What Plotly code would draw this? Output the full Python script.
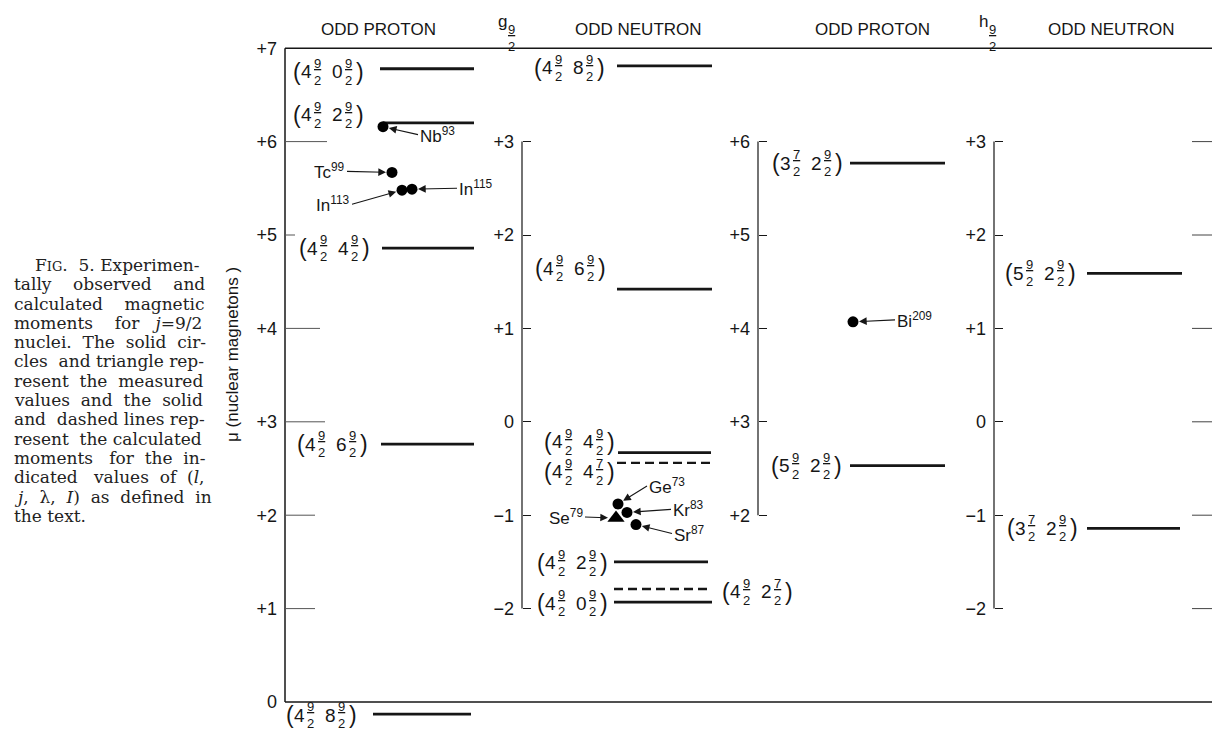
import plotly.graph_objects as go

# calculated moments (nuclear magnetons) with their states (l, j, lambda, I)
G_PROTON_MU = [6.78, 6.20, 4.86, 2.76, -0.13]
G_PROTON_STATE = [("4", "9/2", "0", "9/2"), ("4", "9/2", "2", "9/2"),
                  ("4", "9/2", "4", "9/2"), ("4", "9/2", "6", "9/2"),
                  ("4", "9/2", "8", "9/2")]
G_PROTON_DASHED = [False, False, False, False, False]

G_NEUTRON_MU = [3.81, 1.42, -0.33, -0.44, -1.50, -1.79, -1.93]
G_NEUTRON_STATE = [("4", "9/2", "8", "9/2"), ("4", "9/2", "6", "9/2"),
                   ("4", "9/2", "4", "9/2"), ("4", "9/2", "4", "7/2"),
                   ("4", "9/2", "2", "9/2"), ("4", "9/2", "2", "7/2"),
                   ("4", "9/2", "0", "9/2")]
G_NEUTRON_DASHED = [False, False, False, True, False, True, False]

H_PROTON_MU = [5.77, 2.53]
H_PROTON_STATE = [("3", "7/2", "2", "9/2"), ("5", "9/2", "2", "9/2")]
H_PROTON_DASHED = [False, False]

H_NEUTRON_MU = [1.59, -1.14]
H_NEUTRON_STATE = [("5", "9/2", "2", "9/2"), ("3", "7/2", "2", "9/2")]
H_NEUTRON_DASHED = [False, False]

# measured moments
G_PROTON_NUCLIDE = ["Nb", "Tc", "In", "In"]
G_PROTON_A = ["93", "99", "113", "115"]
G_PROTON_MEAS = [6.16, 5.67, 5.48, 5.49]

G_NEUTRON_NUCLIDE = ["Ge", "Kr", "Se", "Sr"]
G_NEUTRON_A = ["73", "83", "79", "87"]
G_NEUTRON_MEAS = [-0.88, -0.97, -1.03, -1.10]

H_PROTON_NUCLIDE = ["Bi"]
H_PROTON_A = ["209"]
H_PROTON_MEAS = [4.07]

# axis ticks
PROTON_TICKS = [0, 1, 2, 3, 4, 5, 6, 7]
H_PROTON_TICKS = [2, 3, 4, 5, 6]
NEUTRON_TICKS = [-2, -1, 0, 1, 2, 3]

HEADERS = ["ODD PROTON", "ODD NEUTRON", "ODD PROTON", "ODD NEUTRON"]
SHELLS = [("g", "9/2"), ("h", "9/2")]
Y_TITLE = "\u03bc (nuclear magnetons )"

CAPTION = [
    "F<span style='font-size:13px'>IG</span>. 5. Experimen-",
    "tally observed and",
    "calculated magnetic",
    "moments for <i>j</i>=9/2",
    "nuclei. The solid cir-",
    "cles and triangle rep-",
    "resent the measured",
    "values and the solid",
    "and dashed lines rep-",
    "resent the calculated",
    "moments for the in-",
    "dicated values of (<i>l</i>,",
    "<i>j</i>, \u03bb, <i>I</i>) as defined in",
    "the text.",
]

# ---------------- layout / style ----------------
W, H = 1220, 734          # page size
OFF = 8                   # body margin of the html page
FW, FH = W - OFF, H - OFF  # figure size
ZERO_PX, UNIT_PX = 702, 93.4
P_RANGE = [(ZERO_PX - H) / UNIT_PX, (ZERO_PX - OFF) / UNIT_PX]
N_SHIFT = 3
N_RANGE = [P_RANGE[0] - N_SHIFT, P_RANGE[1] - N_SHIFT]

INK = "#161616"
SANS = "Liberation Sans, Arial, sans-serif"
SERIF = "DejaVu Serif, serif"
CAP_SIZE = 17


def py(ypage):
    return 1 - (ypage - OFF) / FH


panels = [
    dict(yref="y", axis_x=285, ticks=PROTON_TICKS, rng=P_RANGE,
         mu=G_PROTON_MU, state=G_PROTON_STATE, dashed=G_PROTON_DASHED,
         label_x=[291, 291, 297, 295, 284], label_dy=[3, -8, 0, 0, 1],
         line_x=[(380, 474), (383, 474), (382, 474), (381, 474), (373, 471)]),
    dict(yref="y2", axis_x=522, ticks=NEUTRON_TICKS, rng=N_RANGE,
         mu=G_NEUTRON_MU, state=G_NEUTRON_STATE, dashed=G_NEUTRON_DASHED,
         label_x=[532, 533, 542, 542, 535, 720, 535],
         label_dy=[2, -21, -11, 9, 1, 3, 1],
         line_x=[(617, 712), (617, 712), (618, 711), (617, 711),
                 (614, 708), (614, 712), (614, 712)]),
    dict(yref="y3", axis_x=758, ticks=H_PROTON_TICKS, rng=P_RANGE,
         mu=H_PROTON_MU, state=H_PROTON_STATE, dashed=H_PROTON_DASHED,
         label_x=[770, 769], label_dy=[0, 0],
         line_x=[(850, 945), (850, 945)]),
    dict(yref="y4", axis_x=994, ticks=NEUTRON_TICKS, rng=N_RANGE,
         mu=H_NEUTRON_MU, state=H_NEUTRON_STATE, dashed=H_NEUTRON_DASHED,
         label_x=[1003, 1005], label_dy=[0, 0],
         line_x=[(1087, 1182), (1087, 1180)]),
]

measured = [
    dict(yref="y", nuc=G_PROTON_NUCLIDE, A=G_PROTON_A, mu=G_PROTON_MEAS,
         x=[383, 392, 402, 412], symbol=["circle"] * 4, size=[11] * 4,
         text=[(35, 8), (-45, -1), (-50, 14), (45, -1)]),
    dict(yref="y2", nuc=G_NEUTRON_NUCLIDE, A=G_NEUTRON_A, mu=G_NEUTRON_MEAS,
         x=[618, 627, 616, 636],
         symbol=["circle", "circle", "triangle-up", "circle"],
         size=[11, 11, 15, 11],
         text=[(29, -18), (44, -3), (-31, -1), (36, 9)]),
    dict(yref="y3", nuc=H_PROTON_NUCLIDE, A=H_PROTON_A, mu=H_PROTON_MEAS,
         x=[853], symbol=["circle"], size=[11], text=[(42, -2)]),
]

P1_TICK_LEN = [0, 30, 30, 40, 35, 10, 42, 0]

# rough advance widths (em) of DejaVu Serif, used to spread caption lines
CHAR_W = dict(zip("abcdefghijklmnopqrstuvwxyz",
                  [.596, .640, .560, .640, .592, .371, .640, .644, .320, .310,
                   .606, .320, .948, .644, .602, .640, .640, .478, .513, .402,
                   .644, .565, .855, .564, .565, .537]))
CHAR_W.update({" ": .318, ".": .318, ",": .318, "-": .338, "(": .390,
               ")": .390, "=": .838, "/": .337, "T": .672, "E": .684,
               "F": .652, "I": .347, "G": .56, "\u03bb": .600})


def tick_text(v):
    if v > 0:
        return f"+{v}"
    if v < 0:
        return f"\u2212{-v}"
    return "0"


def frac(s):
    num, den = s.split("/")
    return f"<u>{num}</u><br>{den}"


def plain(s):
    out, skip = "", False
    for ch in s:
        if ch == "<":
            skip = True
        elif ch == ">":
            skip = False
        elif not skip:
            out += ch
    return out


def justify(line, width):
    words = line.split(" ")
    gaps = len(words) - 1
    natural = sum(CHAR_W.get(c, .636) for c in plain(line)) * CAP_SIZE
    extra = int(round((width - natural) / (CHAR_W[" "] * CAP_SIZE)))
    if gaps == 0 or extra <= 0:
        return line
    out = words[0]
    for g, w in enumerate(words[1:]):
        n = extra // gaps + (1 if g < extra % gaps else 0)
        out += " " + "\u00a0" * n + w
    return out


fig = go.Figure()

# calculated levels
for p in panels:
    for mu, dashed, (x0, x1) in zip(p["mu"], p["dashed"], p["line_x"]):
        fig.add_trace(go.Scatter(
            x=[x0, x1], y=[mu, mu], yaxis=p["yref"], mode="lines",
            line=dict(color=INK, width=2.4 if dashed else 2.8,
                      dash="9px,5px" if dashed else "solid"),
            hoverinfo="skip", showlegend=False))

# measured points
for m in measured:
    fig.add_trace(go.Scatter(
        x=m["x"], y=m["mu"], yaxis=m["yref"], mode="markers",
        marker=dict(color="black", symbol=m["symbol"], size=m["size"],
                    opacity=1, line=dict(width=0)),
        hoverinfo="skip", showlegend=False))

annotations = []
shapes = []


def note(**kw):
    base = dict(showarrow=False, font=dict(family=SANS, size=16, color=INK))
    base.update(kw)
    annotations.append(base)


# state labels (l j lambda I)
PIECES = [(0, 23, "p"), (8, 19, "l"), (21, 13, "j"), (39, 19, "lam"),
          (52, 13, "I"), (63, 23, "q")]
for p in panels:
    for mu, st, lx, dy in zip(p["mu"], p["state"], p["label_x"], p["label_dy"]):
        l, j, lam, I = st
        texts = {"p": "(", "l": l, "j": frac(j), "lam": lam, "I": frac(I), "q": ")"}
        for dx, size, key in PIECES:
            note(x=lx + dx, y=mu, xref="x", yref=p["yref"], text=texts[key],
                 xanchor="left", yanchor="middle", yshift=-dy,
                 font=dict(family=SANS, size=size, color=INK))

# nuclide names with arrows pointing at the measured value
for m in measured:
    for i in range(len(m["mu"])):
        ax, ay = m["text"][i]
        annotations.append(dict(
            x=m["x"][i], y=m["mu"][i], xref="x", yref=m["yref"],
            text=f"{m['nuc'][i]}<sup>{m['A'][i]}</sup>",
            showarrow=True, ax=ax, ay=ay,
            xanchor="left" if ax > 0 else "right", yanchor="middle",
            arrowhead=2, arrowsize=1.4, arrowwidth=1.1, arrowcolor=INK,
            standoff=8 if m["symbol"][i] != "circle" else 6,
            font=dict(family=SANS, size=17, color=INK)))

# frame of the first panel
frame_x = panels[0]["axis_x"]
top, bottom = max(PROTON_TICKS), min(PROTON_TICKS)
line_style = dict(color=INK, width=1.5)
for yv in (top, bottom):
    shapes.append(dict(type="line", xref="x", yref="y", x0=frame_x, x1=W,
                       y0=yv, y1=yv, line=line_style))
shapes.append(dict(type="line", xref="x", yref="y", x0=frame_x, x1=frame_x,
                   y0=bottom, y1=top, line=line_style))
for t, ln in zip(PROTON_TICKS, P1_TICK_LEN):
    if ln:
        shapes.append(dict(type="line", xref="x", yref="y", x0=frame_x,
                           x1=frame_x + ln, y0=t, y1=t,
                           line=dict(color="#555", width=1)))

# brackets of the other panels
for p in panels[1:]:
    shapes.append(dict(type="line", xref="x", yref=p["yref"], x0=p["axis_x"],
                       x1=p["axis_x"], y0=min(p["ticks"]), y1=max(p["ticks"]),
                       line=dict(color=INK, width=1.2)))

# ticks at the right edge
for t in NEUTRON_TICKS:
    shapes.append(dict(type="line", xref="x", yref="y4", x0=1192, x1=W,
                       y0=t, y1=t, line=dict(color="#444", width=1)))

# headers
for text, xc in zip(HEADERS, [378, 638, 872, 1111]):
    note(x=xc, y=py(30), xref="x", yref="paper", text=text,
         xanchor="center", yanchor="middle",
         font=dict(family=SANS, size=17, color=INK))
for (letter, fr), xl in zip(SHELLS, [496, 977]):
    note(x=xl, y=py(22), xref="x", yref="paper", text=letter,
         xanchor="left", yanchor="middle",
         font=dict(family=SANS, size=17, color=INK))
    note(x=xl + 10, y=py(38), xref="x", yref="paper", text=frac(fr),
         xanchor="left", yanchor="middle",
         font=dict(family=SANS, size=13, color=INK))

# y-axis title
note(x=232, y=py(355), xref="x", yref="paper", text=Y_TITLE, textangle=-90,
     xanchor="center", yanchor="middle",
     font=dict(family=SANS, size=17, color=INK))

# caption, spread over the column like the printed text
for k, line in enumerate(CAPTION):
    x_left = 33 if k == 0 else 12
    text = line if k == len(CAPTION) - 1 else justify(line, 202 - x_left)
    note(x=x_left, y=py(265 + 19.3 * k), xref="x", yref="paper", text=text,
         xanchor="left", yanchor="middle",
         font=dict(family=SERIF, size=CAP_SIZE, color="#222"))

layout = dict(
    width=FW, height=FH, margin=dict(l=0, r=0, t=0, b=0),
    paper_bgcolor="white", plot_bgcolor="white", template="none",
    xaxis=dict(range=[OFF, W], visible=False, fixedrange=True),
    annotations=annotations, shapes=shapes, showlegend=False,
)
for i, p in enumerate(panels):
    name = "yaxis" if i == 0 else f"yaxis{i + 1}"
    ax = dict(range=p["rng"], anchor="free", position=(p["axis_x"] - OFF) / FW,
              side="left", tickvals=p["ticks"],
              ticktext=[tick_text(t) for t in p["ticks"]],
              ticks="" if i == 0 else "inside", ticklen=8, tickwidth=1,
              tickcolor=INK, showline=False, showgrid=False, zeroline=False,
              tickfont=dict(family=SANS, size=18, color=INK),
              ticklabelstandoff=8, automargin=False, fixedrange=True)
    if i:
        ax["overlaying"] = "y"
    layout[name] = ax

fig.update_layout(**layout)
fig.write_html("out.html")
